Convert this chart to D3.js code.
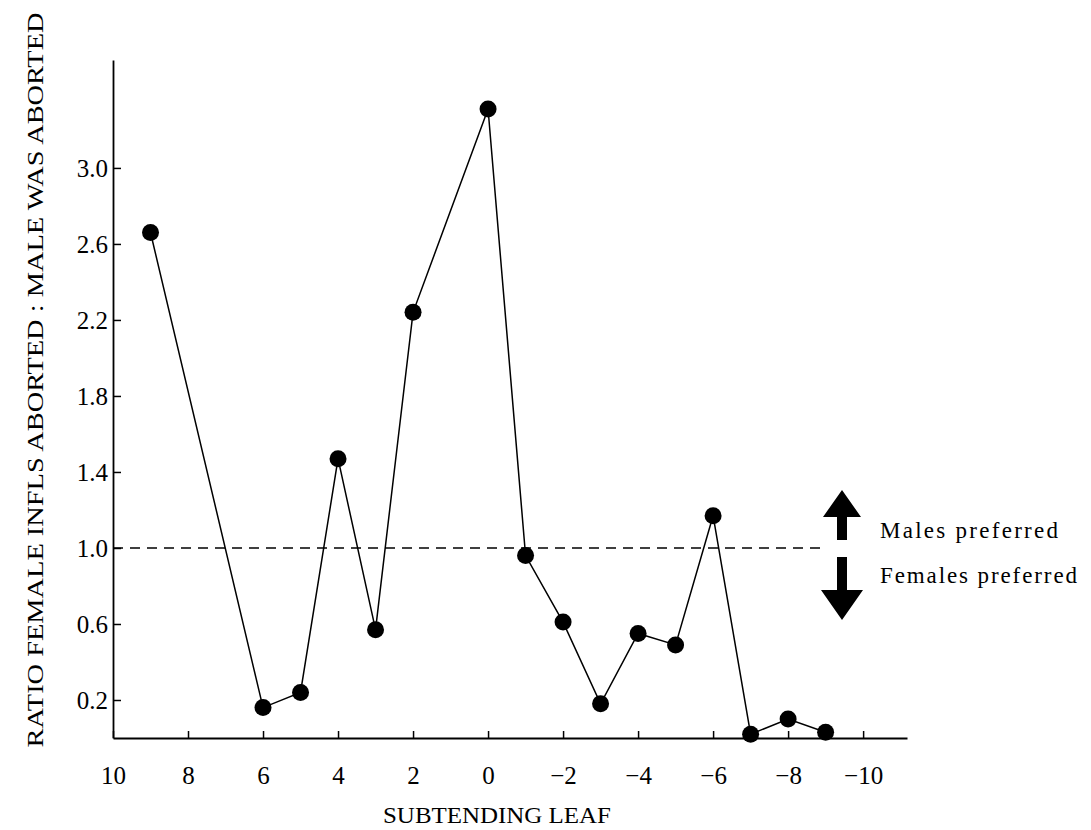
<!DOCTYPE html>
<html>
<head>
<meta charset="utf-8">
<script src="https://cdn.jsdelivr.net/npm/d3@7/dist/d3.min.js"></script>
<style>
  html, body { margin: 0; padding: 0; background: #fff; }
  svg { display: block; }
  text { font-family: "Liberation Serif", "DejaVu Serif", serif; fill: #000; }
</style>
</head>
<body>
<svg id="chart" width="1091" height="830"></svg>
<script>
// ---- data ----
const leaves = [9, 6, 5, 4, 3, 2, 0, -1, -2, -3, -4, -5, -6, -7, -8, -9];
const ratios = [2.66, 0.16, 0.24, 1.47, 0.57, 2.24, 3.31, 0.96, 0.61, 0.18, 0.55, 0.49, 1.17, 0.02, 0.10, 0.03];
const xTicks = [10, 8, 6, 4, 2, 0, -2, -4, -6, -8, -10];
const yTicks = [0.2, 0.6, 1.0, 1.4, 1.8, 2.2, 2.6, 3.0];
const refValue = 1.0;
const xTitle = "SUBTENDING LEAF";
const yTitle = "RATIO FEMALE INFLS ABORTED : MALE WAS ABORTED";
const upLabel = "Males preferred";
const downLabel = "Females preferred";

// ---- layout ----
const svg = d3.select("#chart");
const mLeft = 113, mRight = 907, mTop = 60, mBottom = 738;

const x = d3.scaleLinear().domain([10, -11.17]).range([mLeft, mRight]);
const y = d3.scaleLinear().domain([0, 3.568]).range([mBottom, mTop]);

const minus = s => String(s).replace("-", "\u2212");

// axes
const xAxis = d3.axisBottom(x).tickValues(xTicks).tickSizeInner(-7).tickSizeOuter(0)
  .tickFormat(d => minus(d3.format("d")(d)));
const gx = svg.append("g").attr("transform", `translate(0,${mBottom})`).call(xAxis);
gx.select(".domain").attr("stroke", "#000").attr("stroke-width", 2);
gx.selectAll(".tick line").attr("stroke", "#000").attr("stroke-width", 1.5);
gx.selectAll(".tick text").attr("font-size", 25).attr("y", 0).attr("dy", 46)
  .attr("font-family", "Liberation Serif");

const yAxis = d3.axisLeft(y).tickValues(yTicks).tickSizeInner(-8).tickSizeOuter(0)
  .tickFormat(d3.format(".1f"));
const gy = svg.append("g").attr("transform", `translate(${mLeft},0)`).call(yAxis);
gy.select(".domain").attr("stroke", "#000").attr("stroke-width", 1.8);
gy.selectAll(".tick line").attr("stroke", "#000").attr("stroke-width", 1.5);
gy.selectAll(".tick text").attr("font-size", 25).attr("x", -5).attr("dy", "0.34em")
  .attr("font-family", "Liberation Serif");

// dashed reference line
svg.append("line")
  .attr("x1", x(10)).attr("x2", 820)
  .attr("y1", y(refValue)).attr("y2", y(refValue))
  .attr("stroke", "#000").attr("stroke-width", 1.3)
  .attr("stroke-dasharray", "10,7");

// data line
const pts = leaves.map((l, i) => [l, ratios[i]]);
svg.append("path")
  .datum(pts)
  .attr("fill", "none").attr("stroke", "#000").attr("stroke-width", 1.5)
  .attr("d", d3.line().x(d => x(d[0])).y(d => y(d[1])));

svg.selectAll("circle.pt").data(pts).enter().append("circle")
  .attr("class", "pt")
  .attr("cx", d => x(d[0])).attr("cy", d => y(d[1]))
  .attr("r", 8.5).attr("fill", "#000");

// arrows
const ay = y(refValue);
const ax = 842;
svg.append("path")
  .attr("d", `M${ax},${ay-58} L${ax+19},${ay-31} L${ax+5},${ay-31} L${ax+5},${ay-8} L${ax-5},${ay-8} L${ax-5},${ay-31} L${ax-19},${ay-31} Z`)
  .attr("fill", "#000");
svg.append("path")
  .attr("d", `M${ax},${ay+72} L${ax+21},${ay+42} L${ax+5},${ay+42} L${ax+5},${ay+9} L${ax-5},${ay+9} L${ax-5},${ay+42} L${ax-21},${ay+42} Z`)
  .attr("fill", "#000");

svg.append("text").attr("x", 880).attr("y", ay - 10)
  .attr("font-size", 23).attr("textLength", 178).attr("lengthAdjust", "spacing")
  .text(upLabel);
svg.append("text").attr("x", 880).attr("y", ay + 35)
  .attr("font-size", 23).attr("textLength", 197).attr("lengthAdjust", "spacing")
  .text(downLabel);

// titles
svg.append("text")
  .attr("x", 497).attr("y", 823)
  .attr("text-anchor", "middle").attr("font-size", 23)
  .attr("textLength", 228).attr("lengthAdjust", "spacingAndGlyphs")
  .text(xTitle);

svg.append("text")
  .attr("transform", `translate(43,380) rotate(-90)`)
  .attr("text-anchor", "middle").attr("font-size", 24)
  .attr("textLength", 735).attr("lengthAdjust", "spacingAndGlyphs")
  .text(yTitle);
</script>
</body>
</html>
